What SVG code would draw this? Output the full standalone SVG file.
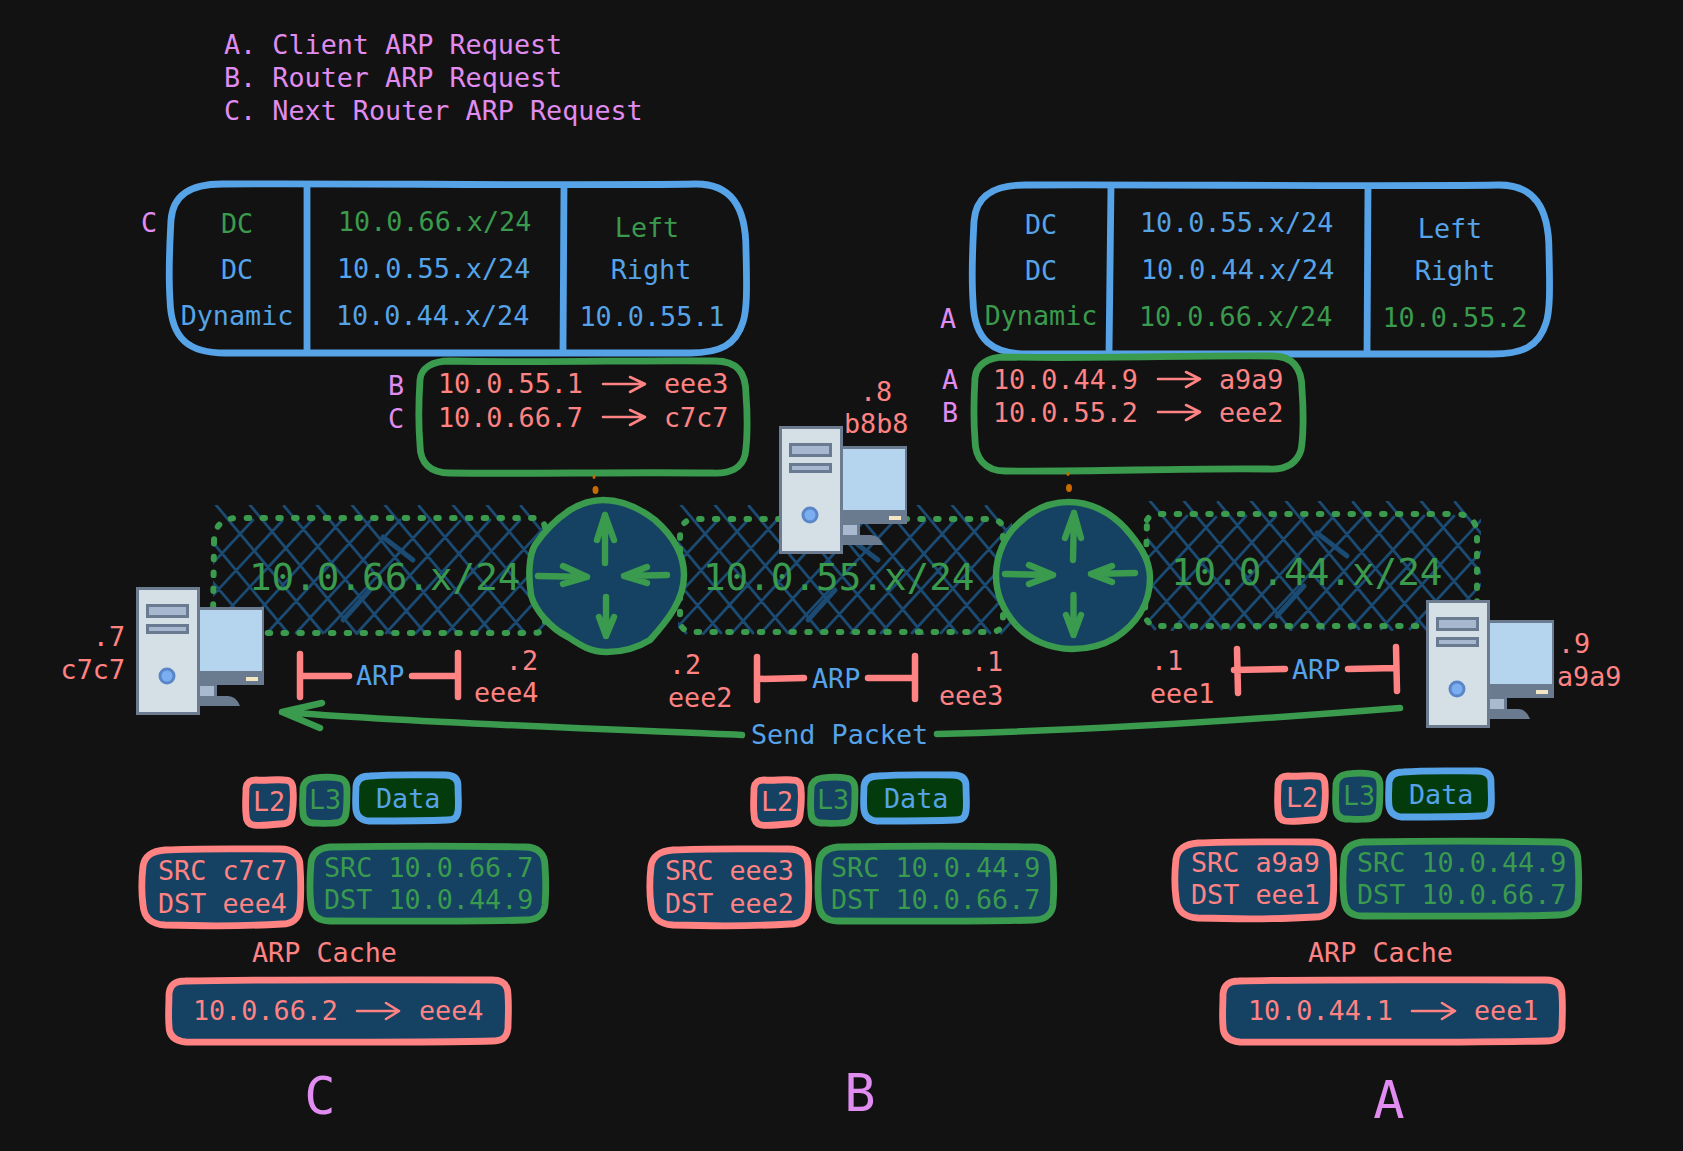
<svg xmlns="http://www.w3.org/2000/svg" xmlns:xlink="http://www.w3.org/1999/xlink" width="1683" height="1151" viewBox="0 0 1683 1151">
<style>
text{font-family:"DejaVu Sans Mono","Liberation Mono",monospace;font-size:26.75px;white-space:pre}
.m{text-anchor:middle}.e{text-anchor:end}
.pu{fill:#e08cf0}.pk{fill:#ff8383}.gr{fill:#3a9a4d}.bl{fill:#56a3e8}
.big{font-size:37.6px}.huge{font-size:52px}
.bx{fill:none;stroke-width:6.8;stroke-linejoin:round}
.sb{stroke:#56a3e8}.sg{stroke:#3a9a4d}.sp{stroke:#ff8383}
.nv{fill:#154163}.dk{fill:#043b0c}
.ln{fill:none;stroke-linecap:round;stroke-linejoin:round}
.ra{fill:none;stroke:#3a9a4d;stroke-width:6.4;stroke-linecap:round;stroke-linejoin:round}
.ta{fill:none;stroke:#ff8383;stroke-width:2.6;stroke-linecap:round;stroke-linejoin:round}
.dots{fill:none;stroke:#3a9a4d;stroke-width:6;stroke-linecap:round;stroke-dasharray:2.5 13.3}
.hatch{fill:none;stroke:#1b4a72;stroke-width:2.8;stroke-linecap:round}
</style>
<defs>
<g id="h">
<path class="hatch" d="M-99 0l107 128M-65 1l108 127M-31 0l106 128M3 0l107 128M37 0l107 129M71 1l106 127M104 0l108 128M139 0l106 129M172 0l107 128M206 1l106 127M240 0l107 128M274 0l107 128M308 1l105 127M40 15l-105 113M69 16l-104 112M99 15l-105 113M129 15l-104 114M157 16l-103 112M187 15l-104 113M217 15l-105 112M247 16l-103 112M277 15l-104 113M307 15l-104 113M337 16l-103 112M367 15l-104 113M397 15l-104 113M427 15l-104 113"/>
<path class="hatch" style="stroke-width:5" d="M157 85L130 115M170 32L200 55"/>
</g>
<clipPath id="c1"><rect x="0" y="0" width="334" height="130"/></clipPath>
<path id="f-l2" d="M256 780C265 781 275 779 284 780C291 780 293 784 293 790C294 800 293 808 292 815C291 822 287 824 280 824C270 825 260 826 253 825C248 824 246 820 246 814C245 805 246 795 246 788C247 782 250 780 256 780Z"/>
<path id="f-l3" d="M314 778C322 777 332 777 338 778C345 779 347 783 347 790C347 798 347 806 346 813C345 820 341 823 333 823C325 824 318 823 312 823C306 822 303 818 303 812C302 804 303 795 303 788C304 781 308 779 314 778Z"/>
<path id="f-data" d="M370 776C395 774 425 775 445 775C454 775 458 779 458 786C458 796 459 804 458 811C457 818 454 820 447 820C425 821 390 821 368 821C360 820 357 816 356 810C355 800 356 793 356 786C357 779 362 776 370 776Z"/>
<path id="f-src" d="M165 850C200 848 250 849 280 849C294 849 300 856 300 866C301 880 301 895 300 908C299 919 292 924 282 924C250 926 200 926 165 925C150 924 144 917 143 905C141 890 142 875 143 866C145 855 153 851 165 850Z"/>
<path id="f-ip" d="M330 847C390 846 470 846 525 847C538 847 545 854 545 866C546 880 546 892 545 905C544 915 536 920 525 920C470 922 390 921 330 921C318 921 312 915 311 905C309 890 310 875 311 863C312 853 319 848 330 847Z"/>
<path id="f-cache" d="M185 981C260 979 400 980 492 980C503 980 508 985 508 995C509 1008 508 1020 508 1028C507 1038 502 1041 492 1041C400 1043 260 1042 186 1042C175 1041 169 1036 169 1026C168 1015 169 1005 169 994C170 985 175 981 185 981Z"/>
<g id="pc">
<rect x="63" y="20" width="65" height="78" fill="#6a7b90"/>
<rect x="63" y="23" width="63" height="61" fill="#b5d5ef"/>
<rect x="110" y="90" width="12" height="4" fill="#f2e6c5"/>
<path d="M63 98H81V109H63Z" fill="#6a7b90"/>
<rect x="63" y="99" width="15" height="10" fill="#a9bad0"/>
<path d="M63 109H92Q100 109 104 119H63Z" fill="#6a7b90"/>
<rect x="1.500" y="1.500" width="61" height="125" fill="#d5dfe6" stroke="#6c7b8f" stroke-width="3"/>
<rect x="11.500" y="18.500" width="40" height="11" fill="#a6b7d0" stroke="#6a7a90" stroke-width="3"/>
<rect x="11.500" y="38.500" width="40" height="7" fill="#a6b7d0" stroke="#6a7a90" stroke-width="3"/>
<circle cx="31" cy="89" r="7" fill="#7aaef0" stroke="#5a86c8" stroke-width="3"/>
</g>
</defs>
<rect width="1683" height="1151" fill="#121212"/>

<g id="legend">
<text class="pu" x="224" y="54">A. Client ARP Request</text>
<text class="pu" x="224" y="87">B. Router ARP Request</text>
<text class="pu" x="224" y="120">C. Next Router ARP Request</text>
</g>

<g id="table-left">
<path class="bx sb" d="M222 184C350 183 560 186 696 184C730 184 746 205 746 250C747 290 747 310 743 322C736 345 720 353 690 353C560 354 350 352 225 353C190 353 171 340 170 300C168 270 170 240 171 220C173 195 190 184 222 184Z"/>
<path class="bx sb" d="M307 184L307 353M564 184L563 353"/>
<text class="pu m" x="149" y="232">C</text>
<text class="gr m" x="237" y="233">DC</text>
<text class="bl m" x="237" y="279">DC</text>
<text class="bl m" x="237" y="325">Dynamic</text>
<text class="gr" x="338" y="231">10.0.66.x/24</text>
<text class="bl" x="337" y="278">10.0.55.x/24</text>
<text class="bl" x="336" y="325">10.0.44.x/24</text>
<text class="gr m" x="647" y="237">Left</text>
<text class="bl m" x="651" y="279">Right</text>
<text class="bl m" x="652" y="326">10.0.55.1</text>
</g>

<g id="table-right">
<path class="bx sb" d="M1025 185C1150 184 1360 187 1499 185C1533 185 1549 206 1549 251C1550 291 1550 311 1546 323C1539 346 1523 354 1493 354C1363 355 1153 353 1028 354C993 354 974 341 973 301C971 271 973 241 974 221C976 196 993 185 1025 185Z"/>
<path class="bx sb" d="M1111 185L1109 354M1368 185L1367 354"/>
<text class="pu m" x="948" y="328">A</text>
<text class="bl m" x="1041" y="234">DC</text>
<text class="bl m" x="1041" y="280">DC</text>
<text class="gr m" x="1041" y="325">Dynamic</text>
<text class="bl" x="1140" y="232">10.0.55.x/24</text>
<text class="bl" x="1141" y="279">10.0.44.x/24</text>
<text class="gr" x="1139" y="326">10.0.66.x/24</text>
<text class="bl m" x="1450" y="238">Left</text>
<text class="bl m" x="1455" y="280">Right</text>
<text class="gr m" x="1455" y="327">10.0.55.2</text>
</g>

<g id="arp-table-left">
<path class="bx sg" d="M450 361C540 363 640 360 715 361C737 361 746 372 746 395C748 420 747 445 745 455C742 468 730 474 712 473C620 472 530 474 450 473C430 473 420 463 420 445C418 420 419 395 420 380C421 368 432 361 450 361Z"/>
<text class="pu m" x="396" y="395">B</text>
<text class="pu m" x="396" y="428">C</text>
<text class="pk" x="438" y="393">10.0.55.1</text>
<text class="pk" x="438" y="427">10.0.66.7</text>
<path class="ta" d="M603 384H645M630 377L645 384L630 392M603 417H645M630 410L645 417L630 425"/>
<text class="pk" x="664" y="393">eee3</text>
<text class="pk" x="664" y="427">c7c7</text>
</g>

<g id="arp-table-right">
<path class="bx sg" d="M1005 357C1090 359 1200 355 1272 356C1292 356 1302 367 1302 390C1304 415 1303 440 1301 450C1297 463 1286 470 1268 469C1180 468 1090 472 1005 471C985 471 975 458 975 440C973 415 974 395 975 378C976 365 988 357 1005 357Z"/>
<text class="pu m" x="950" y="389">A</text>
<text class="pu m" x="950" y="422">B</text>
<text class="pk" x="993" y="389">10.0.44.9</text>
<text class="pk" x="993" y="422">10.0.55.2</text>
<path class="ta" d="M1158 379H1200M1186 372L1200 379L1186 387M1158 412H1200M1186 405L1200 412L1186 420"/>
<text class="pk" x="1219" y="389">a9a9</text>
<text class="pk" x="1219" y="422">eee2</text>
</g>

<g id="net-left">
<g transform="translate(213 505)"><use xlink:href="#h" href="#h" clip-path="url(#c1)"/></g>
<path class="dots" d="M214 542Q214 518 238 518H534Q545 518 545 530V622Q545 633 534 633H222Q214 633 213 620Z"/>
<text class="gr big" x="249" y="590">10.0.66.x/24</text>
</g>
<g id="net-middle">
<g transform="translate(678 505)"><use xlink:href="#h" href="#h" clip-path="url(#c1)"/></g>
<path class="dots" d="M680 538Q680 519 695 519H988Q1003 519 1003 530V620Q1003 632 990 632H695Q680 632 680 620Z"/>
<text class="gr big" x="703" y="590">10.0.55.x/24</text>
</g>
<g id="net-right">
<g transform="translate(1147 501)"><use xlink:href="#h" href="#h" clip-path="url(#c1)"/></g>
<path class="dots" d="M1147 520Q1150 514 1160 514H1455Q1477 514 1477 535V610Q1477 626 1460 626H1160Q1147 626 1145 615Z"/>
<text class="gr big" x="1171" y="585">10.0.44.x/24</text>
</g>

<g id="router-left">
<path class="nv" d="M603 500C625 500 642 510 655 520C672 535 684 552 684 575C684 600 668 620 650 640C637 648 622 652 607 652C590 652 580 645 568 637C550 628 535 610 531 595C528 575 529 555 535 545C545 530 555 520 570 510C580 504 590 500 603 500Z" stroke="#3a9a4d" stroke-width="6.500"/>
<path class="ra" d="M538 576L587 577M563 566L587 577L563 584M667 575L624 576M647 567L624 576L647 583M605 563V515M597 540L605 515L614 540M606 597V636M599 617L606 636L614 617"/>
</g>
<g id="router-right">
<path class="nv" d="M1069 502C1090 502 1110 512 1125 528C1140 545 1150 560 1150 578C1150 605 1135 625 1115 638C1100 647 1085 649 1072 649C1050 649 1030 640 1016 625C1003 610 996 595 996 576C996 555 1005 535 1020 522C1035 508 1050 502 1069 502Z" stroke="#3a9a4d" stroke-width="6.500"/>
<path class="ra" d="M1005 574L1053 575M1029 565L1053 575L1029 584M1135 573L1091 574M1112 566L1091 574L1112 582M1073 560L1074 513M1065 538L1074 513L1081 538M1073.500 595V635M1066 615L1073.500 635L1081 615"/>
</g>

<g id="pc-left"><use xlink:href="#pc" href="#pc" x="136" y="587"/>
<text class="pk e" x="125" y="646">.7</text>
<text class="pk e" x="125" y="679">c7c7</text></g>
<g id="pc-middle"><use xlink:href="#pc" href="#pc" x="779" y="426"/>
<text class="pk" x="860" y="401">.8</text>
<text class="pk" x="844" y="433">b8b8</text></g>
<g id="pc-right"><use xlink:href="#pc" href="#pc" x="1426" y="600"/>
<text class="pk" x="1558" y="653">.9</text>
<text class="pk" x="1557" y="686">a9a9</text></g>

<g id="port-labels">
<text class="pk e" x="538" y="670">.2</text>
<text class="pk" x="474" y="702">eee4</text>
<text class="pk" x="669" y="674">.2</text>
<text class="pk" x="668" y="707">eee2</text>
<text class="pk" x="971" y="671">.1</text>
<text class="pk" x="939" y="705">eee3</text>
<text class="pk" x="1151" y="670">.1</text>
<text class="pk" x="1150" y="703">eee1</text>
</g>

<g id="connectors">
<path class="ln sp" stroke-width="6.500" d="M300 654L300 697M300 676H349M412 676H458M458 653V697"/>
<path class="ln sp" stroke-width="6.500" d="M757 657L757 700M757 679L804 678M868 678H915M915 656V699"/>
<path class="ln sp" stroke-width="6.500" d="M1237 649L1238 693M1234 670L1285 669M1348 669L1396 668M1396 647L1397 691"/>
<path class="ln sg" stroke-width="6.500" d="M742 735C600 729 420 723 282 712M322 703L282 712L320 728"/>
<path class="ln sg" stroke-width="6.500" d="M937 734C1100 730 1250 720 1400 708"/>
<ellipse cx="595.500" cy="490" rx="3" ry="4" fill="#c76a00"/>
<ellipse cx="1069" cy="488" rx="3" ry="4" fill="#c76a00"/>
<ellipse cx="594" cy="477" rx="1.500" ry="2" fill="#c76a00"/>
<ellipse cx="1068" cy="474" rx="1.500" ry="2" fill="#c76a00"/>
<text class="bl" x="356" y="685">ARP</text>
<text class="bl" x="812" y="688">ARP</text>
<text class="bl" x="1292" y="679">ARP</text>
<text class="bl" x="751" y="744">Send Packet</text>
</g>

<g id="packet-c">
<use xlink:href="#f-l2" href="#f-l2" class="bx sp nv"/>
<use xlink:href="#f-l3" href="#f-l3" class="bx sg nv"/>
<use xlink:href="#f-data" href="#f-data" class="bx sb dk"/>
<text class="pk" x="253" y="811">L2</text>
<text class="gr" x="309" y="809">L3</text>
<text class="bl" x="376" y="808">Data</text>
<use xlink:href="#f-src" href="#f-src" class="bx sp nv"/>
<use xlink:href="#f-ip" href="#f-ip" class="bx sg nv"/>
<text class="pk" x="158" y="880">SRC c7c7</text>
<text class="pk" x="158" y="913">DST eee4</text>
<text class="gr" x="324" y="877">SRC 10.0.66.7</text>
<text class="gr" x="324" y="909">DST 10.0.44.9</text>
</g>
<g id="cache-c">
<text class="pk" x="252" y="962">ARP Cache</text>
<use xlink:href="#f-cache" href="#f-cache" class="bx sp nv"/>
<text class="pk" x="193" y="1020">10.0.66.2</text>
<path class="ta" d="M357 1011H399M386 1003L399 1011L386 1019"/>
<text class="pk" x="419" y="1020">eee4</text>
<text class="pu m huge" x="320" y="1114">C</text>
</g>

<g id="packet-b">
<use xlink:href="#f-l2" href="#f-l2" x="508" class="bx sp nv"/>
<use xlink:href="#f-l3" href="#f-l3" x="508" class="bx sg nv"/>
<use xlink:href="#f-data" href="#f-data" x="508" class="bx sb dk"/>
<text class="pk" x="761" y="811">L2</text>
<text class="gr" x="817" y="809">L3</text>
<text class="bl" x="884" y="808">Data</text>
<use xlink:href="#f-src" href="#f-src" x="508" class="bx sp nv"/>
<use xlink:href="#f-ip" href="#f-ip" x="508" class="bx sg nv"/>
<text class="pk" x="665" y="880">SRC eee3</text>
<text class="pk" x="665" y="913">DST eee2</text>
<text class="gr" x="831" y="877">SRC 10.0.44.9</text>
<text class="gr" x="831" y="909">DST 10.0.66.7</text>
<text class="pu m huge" x="860" y="1111">B</text>
</g>

<g id="packet-a">
<use xlink:href="#f-l2" href="#f-l2" x="1032" y="-4" class="bx sp nv"/>
<use xlink:href="#f-l3" href="#f-l3" x="1033" y="-4" class="bx sg nv"/>
<use xlink:href="#f-data" href="#f-data" x="1033" y="-4" class="bx sb dk"/>
<text class="pk" x="1286" y="807">L2</text>
<text class="gr" x="1343" y="805">L3</text>
<text class="bl" x="1409" y="804">Data</text>
<use xlink:href="#f-src" href="#f-src" x="1033" y="-7" class="bx sp nv"/>
<use xlink:href="#f-ip" href="#f-ip" x="1033" y="-5" class="bx sg nv"/>
<text class="pk" x="1191" y="872">SRC a9a9</text>
<text class="pk" x="1191" y="904">DST eee1</text>
<text class="gr" x="1357" y="872">SRC 10.0.44.9</text>
<text class="gr" x="1357" y="904">DST 10.0.66.7</text>
</g>
<g id="cache-a">
<text class="pk" x="1308" y="962">ARP Cache</text>
<use xlink:href="#f-cache" href="#f-cache" x="1054" class="bx sp nv"/>
<text class="pk" x="1248" y="1020">10.0.44.1</text>
<path class="ta" d="M1412 1011H1455M1442 1003L1455 1011L1442 1019"/>
<text class="pk" x="1474" y="1020">eee1</text>
<text class="pu m huge" x="1389" y="1118">A</text>
</g>
</svg>
